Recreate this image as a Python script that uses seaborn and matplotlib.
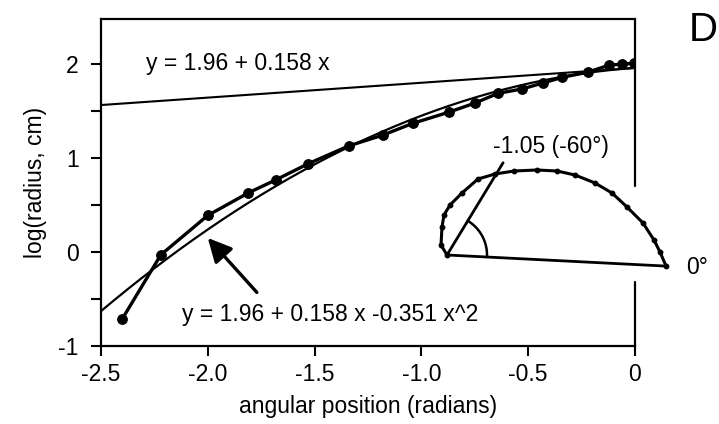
import numpy as np
import pandas as pd
import matplotlib
matplotlib.use("Agg")
import matplotlib.pyplot as plt
import seaborn as sns

# ---- data ----
angle_rad = [-2.40, -2.22, -2.00, -1.81, -1.68, -1.53, -1.34, -1.18, -1.04, -0.87,
             -0.75, -0.64, -0.53, -0.43, -0.34, -0.22, -0.12, -0.06, -0.005]
log_radius = [-0.71, -0.03, 0.39, 0.63, 0.77, 0.94, 1.13, 1.245, 1.37, 1.49,
              1.585, 1.69, 1.735, 1.80, 1.86, 1.915, 1.99, 2.00, 2.01]

linear_coef = [1.96, 0.158]           # y = 1.96 + 0.158 x
quad_coef = [1.96, 0.158, -0.351]     # y = 1.96 + 0.158 x - 0.351 x^2

# inset outline (schematic, units relative to the angle vertex)
outline_x = [219, 213, 207, 196, 180, 165, 148, 128, 110, 90, 67, 48, 31, 15, 3, -3, -5, -6, 0]
outline_y = [-11, 3, 15, 32, 48, 62, 72, 80, 84, 85, 84, 81, 76, 62, 50, 40, 28, 10, 0]
ray_angles_deg = [-2.9, 58.7]
ray_lengths = [221, 108]
arc_radius = 40

xticks = [-2.5, -2.0, -1.5, -1.0, -0.5, 0]
xtick_labels = ["-2.5", "-2.0", "-1.5", "-1.0", "-0.5", "0"]
yticks = [-1, 0, 1, 2]
ytick_labels = ["-1", "0", "1", "2"]
yminor = [-0.5, 0.5, 1.5]

# ---- style ----
sns.set_theme(style="ticks")
plt.rcParams["font.family"] = ["Liberation Sans", "DejaVu Sans"]
plt.rcParams["text.color"] = "black"
plt.rcParams["axes.labelcolor"] = "black"
plt.rcParams["xtick.color"] = "black"
plt.rcParams["ytick.color"] = "black"
FS = 16.5

fig = plt.figure(figsize=(7.19, 4.24), dpi=100)
ax = fig.add_axes([0.1405, 0.184, 0.7425, 0.771])

df = pd.DataFrame({"x": angle_rad, "y": log_radius})
grid = np.linspace(-2.5, 0, 200)
fit = pd.DataFrame({
    "x": grid,
    "lin": linear_coef[0] + linear_coef[1] * grid,
    "quad": quad_coef[0] + quad_coef[1] * grid + quad_coef[2] * grid ** 2,
})

sns.lineplot(data=fit, x="x", y="lin", ax=ax, color="black", linewidth=1.5)
sns.lineplot(data=fit, x="x", y="quad", ax=ax, color="black", linewidth=1.6)
sns.lineplot(data=df, x="x", y="y", ax=ax, color="black", linewidth=2.4,
             marker="o", markersize=7, markeredgecolor="black", sort=False)

ax.set_xlim(-2.5, 0)
ax.set_ylim(-1, 2.48)
ax.set_xticks(xticks)
ax.set_xticklabels(xtick_labels, fontsize=FS)
ax.set_yticks(yticks)
ax.set_yticklabels(ytick_labels, fontsize=FS)
ax.set_yticks(yminor, minor=True)
ax.tick_params(axis="both", which="both", direction="out", length=7, width=1.5,
               color="black", labelcolor="black")
ax.tick_params(axis="x", pad=5)
ax.tick_params(axis="y", pad=9)
ax.set_xlabel("angular position (radians)", fontsize=FS, color="black", labelpad=7)
ax.set_ylabel("log(radius, cm)", fontsize=FS, color="black", labelpad=8)

for s in ["left", "bottom", "top"]:
    ax.spines[s].set_visible(True)
    ax.spines[s].set_color("black")
    ax.spines[s].set_linewidth(1.6)
ax.spines["right"].set_visible(False)
ax.axvline(0, ymin=0.489, ymax=1, color="black", lw=1.6, clip_on=False)
ax.axvline(0, ymin=0, ymax=0.196, color="black", lw=1.6, clip_on=False)

ax.text(-2.29, 2.01, "y = 1.96 + 0.158 x", fontsize=FS, ha="left", va="center", color="black")
ax.text(-2.12, -0.67, "y = 1.96 + 0.158 x -0.351 x^2", fontsize=FS, ha="left", va="center",
        color="black")
ax.annotate("", xy=(-2.0, 0.15), xytext=(-1.77, -0.43),
            arrowprops=dict(arrowstyle="-|>,head_length=1.2,head_width=0.6",
                            lw=2.4, color="black", shrinkA=0, shrinkB=0))

fig.text(0.978, 0.929, "D", fontsize=29, ha="center", va="center", color="black")

# ---- inset ----
iax = fig.add_axes([420 / 719, 1 - 290 / 424, 280 / 719, 160 / 424])
iax.set_xlim(-27, 253)
iax.set_ylim(-35, 125)
iax.axis("off")
iax.plot(outline_x, outline_y, color="black", lw=2.2, marker="o", markersize=3.2)
for a, L in zip(ray_angles_deg, ray_lengths):
    r = np.deg2rad(a)
    iax.plot([0, L * np.cos(r)], [0, L * np.sin(r)], color="black", lw=2.0)
th = np.deg2rad(np.linspace(ray_angles_deg[0], ray_angles_deg[1], 60))
iax.plot(arc_radius * np.cos(th), arc_radius * np.sin(th), color="black", lw=1.8)
iax.text(104, 108, "-1.05 (-60°)", fontsize=FS, ha="center", va="center", color="black")
iax.text(250, -13, "0°", fontsize=FS, ha="center", va="center", color="black")

fig.savefig("out.png", dpi=100)
